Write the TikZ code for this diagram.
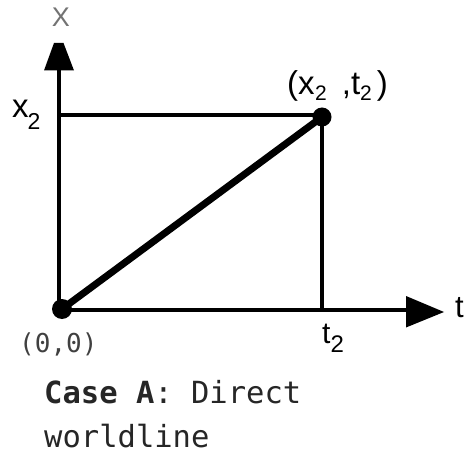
\documentclass[tikz,border=0pt]{standalone}
\usepackage{fontspec}
\setmainfont{Liberation Sans}
\newfontfamily\pixfont{DejaVu Sans Mono}
\begin{document}
\begin{tikzpicture}[x=1pt,y=-1pt,
  axisline/.style={line width=3.6pt},
  worldline/.style={line width=7pt},
  dotnode/.style={circle,fill=black,inner sep=0pt,minimum size=19pt},
  lbl/.style={inner sep=0pt,anchor=base west,font=\fontsize{33}{36}\selectfont},
  pix/.style={inner sep=0pt,anchor=base west,text=black!75}]
\useasboundingbox (0,0) rectangle (468,454);
% coordinates
\coordinate (xtop) at (59,70);
\coordinate (ttop) at (407,310);
\coordinate (x2l) at (59,115);
\coordinate (x2r) at (322,115);
\coordinate (t2b) at (322,310);
% axes
\draw[axisline] (59,312) -- (xtop);
\draw[axisline] (57,310) -- (ttop);
\draw[axisline] (x2l) -- (x2r);
\draw[axisline] (x2r) -- (t2b);
% arrowheads
\fill (54,43) -- (63.5,43) -- (74,70.5) -- (44,70.5) -- cycle;
\fill (406,296) -- (444,312) -- (406,327.5) -- cycle;
% dots
\node[dotnode,minimum size=20pt] (o) at (62,309) {};
\node[dotnode] (p) at (322,117) {};
\draw[worldline] (o.center) -- (p.center);
% labels
\node[lbl,text=black!55,anchor=base,font=\fontsize{27}{30}\selectfont] (xlab) at (61,27) {X};
\node[lbl] (x2) at (12,118) {x\hspace{-1pt}\raisebox{-12pt}{\fontsize{23}{26}\selectfont 2}};
\node[lbl] (pt) at (287,95) {(x\hspace{0.5pt}\raisebox{-6pt}{\fontsize{21}{24}\selectfont 2}\hspace{15pt},t\raisebox{-6pt}{\fontsize{21}{24}\selectfont 2}\hspace{5pt})};
\node[lbl,font=\fontsize{31}{34}\selectfont] (tlab) at (455,317) {t};
\node[lbl,font=\fontsize{30}{34}\selectfont] (t2) at (322,343) {t\raisebox{-9pt}{\fontsize{24}{26}\selectfont 2}};
\node[pix,font=\pixfont\fontsize{26}{30}\selectfont] (olab) at (19,352) {(0,0)};
\node[pix,text=black!85,font=\pixfont\fontsize{30.5}{44}\selectfont] (cap1) at (44,403)
  {\textbf{Case A}: Direct};
\node[pix,text=black!85,font=\pixfont\fontsize{30.5}{44}\selectfont] (cap2) at (44,447)
  {worldline};
\end{tikzpicture}
\end{document}
